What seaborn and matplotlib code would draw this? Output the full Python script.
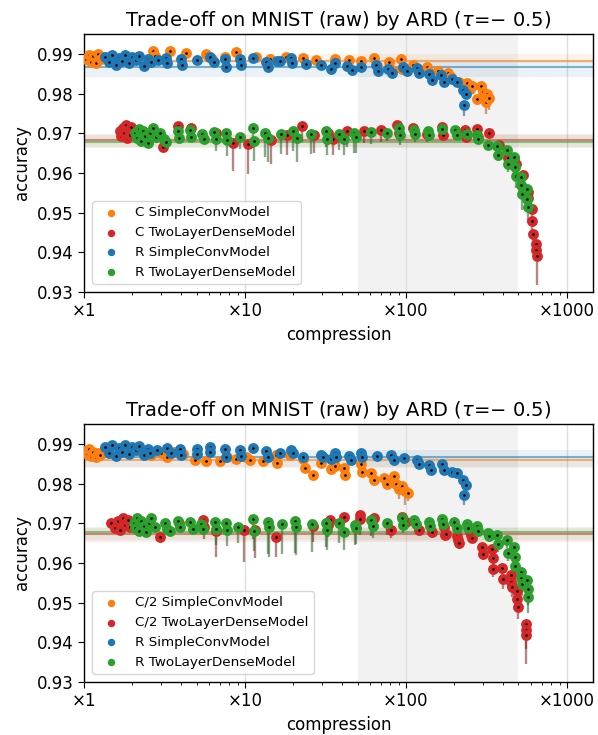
import matplotlib
matplotlib.use('Agg')
import matplotlib.pyplot as plt
import numpy as np
import pandas as pd
import seaborn as sns
from matplotlib.ticker import FuncFormatter, LogLocator, NullFormatter

# ---------------- top panel: C vs R ----------------
top_c_conv_x = [1.03, 1.07, 1.10, 1.14, 1.18, 1.22, 1.27, 1.32, 2.70, 2.76,
                3.40, 4.30, 5.70, 6.00, 6.20, 7.50, 8.80, 11.7, 14.3, 18.0,
                23.0, 27.8, 36.0, 44.5, 52.5, 63.0, 66.0, 79.0, 82.0, 93.0,
                95.0, 110, 117, 135, 140, 158, 183, 190, 214, 240,
                250, 257, 277, 292, 300, 312, 320, 330]
top_c_conv_y = [0.9888, 0.9898, 0.9880, 0.9894, 0.9877, 0.9900, 0.9886, 0.9893, 0.9906, 0.9895,
                0.9906, 0.9902, 0.9900, 0.9893, 0.9887, 0.9893, 0.9904, 0.9893, 0.9887, 0.9893,
                0.9890, 0.9885, 0.9886, 0.9885, 0.9882, 0.9890, 0.9870, 0.9880, 0.9860, 0.9888,
                0.9862, 0.9873, 0.9862, 0.9868, 0.9855, 0.9858, 0.9852, 0.9842, 0.9830, 0.9826,
                0.9812, 0.9820, 0.9786, 0.9818, 0.9803, 0.9779, 0.9800, 0.9788]
top_c_conv_drop = [0] * 30 + [0, 0, 0, 0, 0.0005, 0, 0, 0.0008, 0, 0.0005,
                              0.001, 0, 0.0015, 0, 0.001, 0.003, 0.001, 0.003]

top_c_dense_x = [1.67, 1.70, 1.74, 1.78, 1.82, 1.86, 1.90, 1.94, 1.97, 3.10,
                 3.85, 4.60, 6.60, 8.40, 10.4, 14.5, 18.2, 22.5, 27.0, 33.0,
                 35.0, 43.0, 55.0, 70.0, 88.0, 91.0, 110, 135, 168, 170,
                 233, 236, 277, 280, 330, 380, 430, 470, 480, 530,
                 535, 570, 575, 605, 610, 615, 640, 645, 650]
top_c_dense_y = [0.9705, 0.9693, 0.9712, 0.9700, 0.9721, 0.9688, 0.9708, 0.9695, 0.9715, 0.9666,
                 0.9718, 0.9712, 0.9700, 0.9675, 0.9672, 0.9683, 0.9695, 0.9718, 0.9695, 0.9700,
                 0.9685, 0.9705, 0.9705, 0.9708, 0.9720, 0.9700, 0.9712, 0.9698, 0.9715, 0.9695,
                 0.9708, 0.9690, 0.9710, 0.9690, 0.9700, 0.9670, 0.9637, 0.9637, 0.9622, 0.9594,
                 0.9562, 0.9552, 0.9536, 0.9510, 0.9478, 0.9447, 0.9422, 0.9407, 0.9392]
top_c_dense_drop = [0] * 10 + [
    0, 0, 0.003, 0.007, 0.0075, 0.006, 0.005, 0.004, 0.0045, 0.003,
    0.004, 0.004, 0.003, 0.003, 0.003, 0.002, 0.0015, 0.002, 0.002, 0.0015,
    0.001, 0.0005, 0.001, 0.0005, 0, 0.001, 0.001, 0.0015, 0.001, 0.002,
    0.002, 0.002, 0.0025, 0.002, 0.003, 0.004, 0.002, 0.003, 0.0075]

top_r_conv_x = [1.35, 1.42, 1.50, 1.57, 1.65, 1.72, 1.80, 1.90, 2.00, 2.10,
                2.20, 2.35, 2.50, 2.60, 2.90, 3.25, 3.30, 4.00, 4.05, 5.00,
                6.10, 6.40, 7.50, 7.60, 9.30, 9.40, 11.2, 13.6, 13.8, 15.7,
                16.6, 19.4, 19.6, 24.0, 29.7, 34.4, 36.0, 43.0, 46.0, 52.5,
                65.0, 67.0, 77.0, 82.0, 96.0, 102, 117, 121, 140, 146,
                165, 172, 194, 207, 225, 236, 230]
top_r_conv_y = [0.9893, 0.9880, 0.9898, 0.9872, 0.9890, 0.9882, 0.9897, 0.9878, 0.9892, 0.9885,
                0.9895, 0.9870, 0.9888, 0.9879, 0.9885, 0.9890, 0.9876, 0.9888, 0.9872, 0.9885,
                0.9893, 0.9880, 0.9888, 0.9866, 0.9887, 0.9872, 0.9890, 0.9880, 0.9868, 0.9882,
                0.9882, 0.9890, 0.9878, 0.9875, 0.9872, 0.9862, 0.9877, 0.9870, 0.9860, 0.9868,
                0.9872, 0.9857, 0.9862, 0.9852, 0.9866, 0.9858, 0.9865, 0.9852, 0.9850, 0.9835,
                0.9848, 0.9830, 0.9836, 0.9828, 0.9808, 0.9798, 0.9771]
top_r_conv_drop = [0] * 49 + [0.0008, 0, 0.0005, 0, 0.0005, 0.0012, 0.001, 0.0028]

top_r_dense_x = [2.07, 2.12, 2.18, 2.25, 2.32, 2.40, 2.50, 2.57, 2.70, 2.80,
                 2.95, 3.15, 3.25, 3.85, 3.90, 4.55, 4.62, 5.40, 5.60, 6.40,
                 6.60, 7.60, 7.70, 9.30, 11.2, 11.4, 13.3, 13.9, 16.7, 20.0,
                 20.9, 25.8, 31.8, 32.5, 38.5, 41.5, 47.8, 49.2, 60.5, 76.6,
                 90.0, 92.0, 112, 114, 137, 140, 168, 201, 207, 240,
                 277, 280, 325, 370, 372, 425, 430, 470, 475, 480,
                 518, 520, 525, 565, 568, 570]
top_r_dense_y = [0.9700, 0.9688, 0.9710, 0.9680, 0.9706, 0.9692, 0.9675, 0.9700, 0.9713, 0.9690,
                 0.9700, 0.9685, 0.9678, 0.9705, 0.9688, 0.9707, 0.9690, 0.9698, 0.9685, 0.9702,
                 0.9685, 0.9700, 0.9683, 0.9690, 0.9712, 0.9680, 0.9700, 0.9688, 0.9697, 0.9705,
                 0.9688, 0.9697, 0.9705, 0.9685, 0.9698, 0.9685, 0.9700, 0.9690, 0.9702, 0.9700,
                 0.9712, 0.9695, 0.9708, 0.9698, 0.9705, 0.9695, 0.9710, 0.9707, 0.9695, 0.9698,
                 0.9695, 0.9685, 0.9670, 0.9668, 0.9645, 0.9658, 0.9622, 0.9640, 0.9615, 0.9592,
                 0.9590, 0.9570, 0.9546, 0.9560, 0.9535, 0.9514]
top_r_dense_drop = [0] * 10 + [
    0, 0, 0, 0, 0, 0, 0, 0, 0.001, 0.0025,
    0.003, 0.003, 0.004, 0.003, 0.005, 0.005, 0.006, 0.006, 0.005, 0.005,
    0.006, 0.005, 0.004, 0.004, 0.004, 0.004, 0.005, 0.004, 0.003, 0.002,
    0.003, 0.0025, 0.002, 0.002, 0.002, 0.0015, 0.001, 0.001, 0.0005, 0.001,
    0.0005, 0.001, 0.001, 0.001, 0.0015, 0.001, 0.002, 0.0015, 0.002, 0.003,
    0.002, 0.003, 0.004, 0.002, 0.003, 0.004]

# ---------------- bottom panel: C/2 vs R ----------------
bot_c_conv_x = [1.02, 1.05, 1.08, 1.11, 1.14, 1.18, 1.22, 1.26, 2.30, 2.60,
                3.00, 3.30, 3.60, 4.10, 4.90, 5.70, 7.00, 7.70, 8.80, 10.2,
                10.8, 13.0, 15.6, 15.8, 19.0, 23.0, 23.6, 26.5, 29.7, 34.4,
                36.0, 41.0, 42.0, 52.5, 53.0, 61.0, 63.0, 73.5, 76.6, 84.0,
                87.0, 90.0, 95.0, 99.0, 103]
bot_c_conv_y = [0.9882, 0.9874, 0.9888, 0.9870, 0.9880, 0.9866, 0.9878, 0.9872, 0.9880, 0.9873,
                0.9876, 0.9868, 0.9880, 0.9874, 0.9860, 0.9858, 0.9858, 0.9868, 0.9862, 0.9868,
                0.9860, 0.9858, 0.9872, 0.9852, 0.9873, 0.9862, 0.9840, 0.9822, 0.9851, 0.9836,
                0.9843, 0.9840, 0.9822, 0.9850, 0.9830, 0.9826, 0.9810, 0.9815, 0.9800, 0.9820,
                0.9800, 0.9786, 0.9794, 0.9780, 0.9776]
bot_c_conv_drop = [0] * 36 + [0.001, 0.001, 0.001, 0, 0.002, 0.0025, 0.0015, 0.0035, 0.002]

bot_c_dense_x = [1.48, 1.55, 1.62, 1.68, 1.74, 1.80, 1.87, 1.94, 2.96, 3.90,
                 5.50, 5.55, 6.60, 9.80, 11.5, 15.6, 26.5, 33.0, 33.5, 41.0,
                 51.5, 52.0, 63.0, 80.7, 95.0, 100, 120, 146, 172, 175,
                 178, 208, 211, 214, 250, 254, 257, 298, 300, 344,
                 346, 348, 397, 400, 450, 452, 455, 490, 493, 497,
                 555, 558, 560]
bot_c_dense_y = [0.9700, 0.9688, 0.9705, 0.9683, 0.9712, 0.9695, 0.9708, 0.9690, 0.9666, 0.9700,
                 0.9708, 0.9690, 0.9680, 0.9683, 0.9683, 0.9666, 0.9692, 0.9695, 0.9708, 0.9716,
                 0.9721, 0.9710, 0.9712, 0.9683, 0.9716, 0.9703, 0.9683, 0.9678, 0.9690, 0.9670,
                 0.9672, 0.9668, 0.9658, 0.9650, 0.9677, 0.9670, 0.9662, 0.9640, 0.9622, 0.9636,
                 0.9612, 0.9585, 0.9588, 0.9560, 0.9570, 0.9552, 0.9540, 0.9530, 0.9510, 0.9490,
                 0.9447, 0.9432, 0.9418]
bot_c_dense_drop = [0] * 10 + [
    0.0015, 0.003, 0.0065, 0.008, 0.007, 0.005, 0.004, 0.003, 0.003, 0.004,
    0.003, 0.004, 0.002, 0.002, 0.002, 0.002, 0.0015, 0.0015, 0.001, 0.001,
    0.001, 0.001, 0.001, 0.0015, 0.001, 0.001, 0.001, 0.002, 0.0015, 0.002,
    0.002, 0.002, 0.002, 0.0025, 0.002, 0.0025, 0.0025, 0.0025, 0.003, 0.003,
    0.003, 0.005, 0.0072]

bot_r_conv_x = [1.35, 1.42, 1.50, 1.57, 1.65, 1.72, 1.80, 1.90, 2.00, 2.10,
                2.20, 2.35, 2.50, 2.57, 2.85, 3.30, 3.45, 3.95, 4.00, 5.00,
                5.05, 6.06, 6.10, 7.50, 7.60, 9.30, 9.40, 11.2, 13.6, 13.8,
                16.5, 19.4, 20.0, 23.0, 29.7, 30.5, 34.4, 36.0, 37.0, 44.5,
                45.7, 52.5, 53.0, 66.0, 81.0, 84.0, 97.0, 117, 121, 140,
                143, 168, 172, 194, 207, 225, 236, 230]
bot_r_conv_y = [0.9893, 0.9878, 0.9898, 0.9870, 0.9890, 0.9880, 0.9896, 0.9875, 0.9892, 0.9884,
                0.9895, 0.9872, 0.9888, 0.9876, 0.9885, 0.9890, 0.9878, 0.9886, 0.9872, 0.9887,
                0.9875, 0.9893, 0.9880, 0.9888, 0.9866, 0.9885, 0.9870, 0.9890, 0.9882, 0.9868,
                0.9878, 0.9885, 0.9876, 0.9868, 0.9872, 0.9866, 0.9862, 0.9878, 0.9867, 0.9870,
                0.9860, 0.9878, 0.9866, 0.9870, 0.9872, 0.9860, 0.9865, 0.9860, 0.9850, 0.9848,
                0.9835, 0.9850, 0.9835, 0.9828, 0.9826, 0.9808, 0.9796, 0.9771]
bot_r_conv_drop = [0] * 49 + [0.0008, 0.0005, 0, 0.0008, 0, 0.001, 0.001, 0.0008, 0.0025]

bot_r_dense_x = [2.03, 2.08, 2.14, 2.20, 2.27, 2.35, 2.43, 2.52, 2.62, 2.77,
                 3.20, 3.30, 3.40, 3.85, 3.96, 4.55, 4.77, 5.35, 5.50, 6.50,
                 6.60, 7.67, 7.70, 9.10, 11.2, 11.3, 13.9, 14.0, 16.9, 20.4,
                 20.6, 26.0, 32.0, 32.4, 38.5, 41.5, 48.0, 49.0, 61.0, 62.0,
                 76.6, 94.0, 96.0, 112, 115, 140, 142, 168, 170, 199,
                 207, 240, 242, 277, 279, 325, 328, 370, 372, 425,
                 428, 470, 473, 475, 520, 522, 525, 568, 570, 572]
bot_r_dense_y = [0.9700, 0.9688, 0.9712, 0.9680, 0.9705, 0.9692, 0.9677, 0.9700, 0.9714, 0.9690,
                 0.9700, 0.9685, 0.9680, 0.9706, 0.9690, 0.9704, 0.9685, 0.9698, 0.9686, 0.9702,
                 0.9686, 0.9700, 0.9683, 0.9690, 0.9710, 0.9680, 0.9703, 0.9690, 0.9697, 0.9705,
                 0.9690, 0.9697, 0.9700, 0.9683, 0.9700, 0.9678, 0.9696, 0.9687, 0.9708, 0.9693,
                 0.9700, 0.9712, 0.9695, 0.9708, 0.9698, 0.9703, 0.9692, 0.9710, 0.9698, 0.9703,
                 0.9688, 0.9697, 0.9688, 0.9692, 0.9680, 0.9675, 0.9668, 0.9670, 0.9648, 0.9658,
                 0.9625, 0.9640, 0.9615, 0.9592, 0.9578, 0.9562, 0.9546, 0.9557, 0.9535, 0.9514]
bot_r_dense_drop = [0] * 10 + [
    0, 0, 0, 0, 0, 0, 0, 0, 0.0015, 0.003,
    0.004, 0.003, 0.004, 0.004, 0.005, 0.005, 0.008, 0.0075, 0.0075, 0.008,
    0.007, 0.007, 0.006, 0.005, 0.005, 0.0045, 0.005, 0.004, 0.004, 0.003,
    0.003, 0.003, 0.002, 0.002, 0.002, 0.0015, 0.001, 0.0015, 0.001, 0.001,
    0.001, 0.001, 0.001, 0.001, 0.001, 0.0015, 0.0015, 0.0015, 0.002, 0.002,
    0.002, 0.002, 0.003, 0.003, 0.003, 0.003, 0.003, 0.004, 0.004, 0.004]

# reference (uncompressed) accuracy: mean and spread
top_base = {'conv_c': (0.9883, 0.9877, 0.9900), 'dense_c': (0.9683, 0.9665, 0.9698),
            'conv_r': (0.9868, 0.9841, 0.9885), 'dense_r': (0.9677, 0.9663, 0.9695)}
bot_base = {'conv_c': (0.9860, 0.9838, 0.9866), 'dense_c': (0.9673, 0.9652, 0.9688),
            'conv_r': (0.9868, 0.9841, 0.9884), 'dense_r': (0.9679, 0.9658, 0.9691)}

colors = {'conv_c': '#ff7f0e', 'dense_c': '#d62728', 'conv_r': '#1f77b4', 'dense_r': '#2ca02c'}
dark = {'conv_c': '#b05a10', 'dense_c': '#7a2222', 'conv_r': '#1a5580', 'dense_r': '#2a5f2a'}

panels = [
    ('C', top_base, {
        'conv_c': (top_c_conv_x, top_c_conv_y, top_c_conv_drop),
        'dense_c': (top_c_dense_x, top_c_dense_y, top_c_dense_drop),
        'conv_r': (top_r_conv_x, top_r_conv_y, top_r_conv_drop),
        'dense_r': (top_r_dense_x, top_r_dense_y, top_r_dense_drop)}),
    ('C/2', bot_base, {
        'conv_c': (bot_c_conv_x, bot_c_conv_y, bot_c_conv_drop),
        'dense_c': (bot_c_dense_x, bot_c_dense_y, bot_c_dense_drop),
        'conv_r': (bot_r_conv_x, bot_r_conv_y, bot_r_conv_drop),
        'dense_r': (bot_r_dense_x, bot_r_dense_y, bot_r_dense_drop)}),
]
names = {'conv': 'SimpleConvModel', 'dense': 'TwoLayerDenseModel'}

sns.set_style('ticks')
plt.rcParams['font.family'] = ['DejaVu Sans']
plt.rcParams.update({'text.color': 'k', 'axes.labelcolor': 'k',
                     'xtick.color': 'k', 'ytick.color': 'k'})

fig = plt.figure(figsize=(5.98, 7.35), dpi=100)
axes = [fig.add_axes([0.1405, 0.6027, 0.851, 0.351]),
        fig.add_axes([0.1405, 0.0721, 0.851, 0.351])]

for ax, (tag, base, series) in zip(axes, panels):
    ax.axvspan(50, 500, color='0.5', alpha=0.1, lw=0, zorder=0)
    for key in ['conv_c', 'dense_c', 'conv_r', 'dense_r']:
        mid, lo, hi = base[key]
        ax.axhspan(lo, hi, color=colors[key], alpha=0.09, lw=0, zorder=1)
        ax.axhline(mid, color=colors[key], alpha=0.55, lw=1.5, zorder=1)

    for key in ['conv_c', 'dense_c', 'conv_r', 'dense_r']:
        xs, ys, drops = series[key]
        df = pd.DataFrame({'compression': xs, 'accuracy': ys, 'drop': drops})
        df['low'] = df['accuracy'] - df['drop']
        err = df[df['drop'] > 0]
        ax.vlines(err['compression'], err['low'], err['accuracy'],
                  color=dark[key], alpha=0.55, lw=1.7, zorder=2)
        model, method = key.split('_')
        label = f"{tag if method == 'c' else 'R'} {names[model]}"
        sns.scatterplot(data=df, x='compression', y='accuracy', ax=ax,
                        color='k', edgecolor=colors[key], linewidth=2.9,
                        s=24, label=label, zorder=3)

    ax.set_xscale('log')
    ax.set_xlim(1, 1450)
    ax.set_ylim(0.93, 0.995)
    ax.xaxis.set_major_locator(LogLocator(base=10))
    ax.xaxis.set_major_formatter(FuncFormatter(lambda v, _: f'×{v:g}'))
    ax.xaxis.set_minor_formatter(NullFormatter())
    ax.set_yticks(np.arange(0.93, 0.991, 0.01))
    ax.yaxis.set_major_formatter(FuncFormatter(lambda v, _: f'{v:.2f}'))
    ax.grid(axis='x', which='major', color='0.87', lw=1, zorder=0)
    ax.set_axisbelow(True)
    for sp in ax.spines.values():
        sp.set_visible(True)
        sp.set_color('k')
        sp.set_linewidth(1.0)
    ax.tick_params(labelsize=12, direction='out', length=4)
    ax.set_xlabel('compression', fontsize=12)
    ax.set_ylabel('accuracy', fontsize=12)
    ax.set_title(r'Trade-off on MNIST (raw) by ARD ($\tau$=$-$ 0.5)', fontsize=14)
    ax.legend(loc='lower left', fontsize=9.7, markerscale=0.5, frameon=True,
              borderaxespad=0.6)

fig.savefig('out.png', dpi=100)
